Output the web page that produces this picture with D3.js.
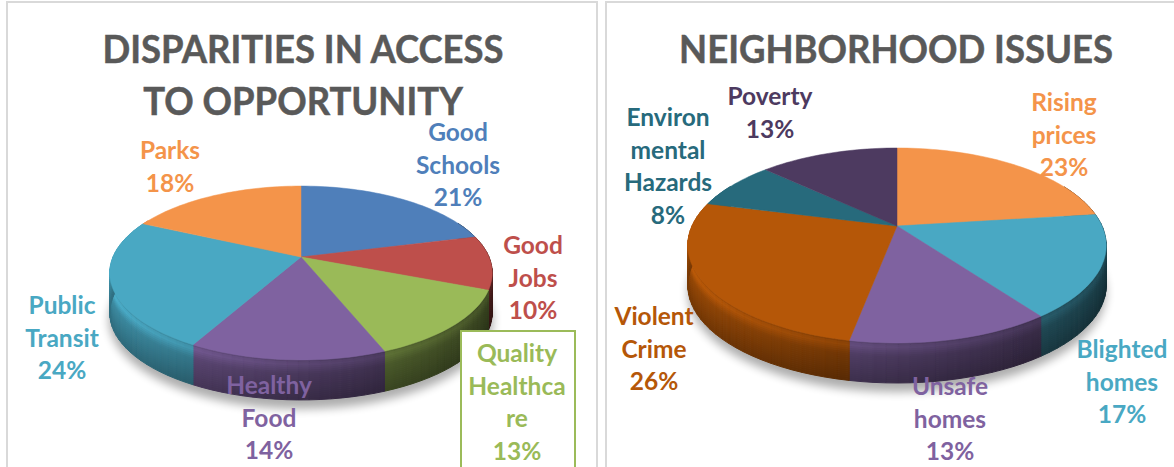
<!DOCTYPE html>
<html>
<head>
<meta charset="utf-8">
<script src="https://cdn.jsdelivr.net/npm/d3@7"></script>
<style>
html,body{margin:0;padding:0;background:#fff;overflow:hidden}
text{font-family:Lato,"Open Sans",sans-serif;font-weight:700}
</style>
</head>
<body>
<script>
var accessNames=[["Good","Schools"],["Good","Jobs"],["Quality","Healthca","re"],["Healthy","Food"],["Public","Transit"],["Parks"]]
var accessValues=[21,10,13,14,24,18]
var accessColors=["#4f7fba","#be4f4b","#9aba58","#7f62a0","#49a8c3","#f4944a"]
var accessLabelX=[458,533,517,269,62,170]
var accessLabelY=[132,245,353,385,305,150]

var issueNames=[["Rising","prices"],["Blighted","homes"],["Unsafe","homes"],["Violent","Crime"],["Environ","mental","Hazards"],["Poverty"]]
var issueValues=[23,17,13,26,8,13]
var issueColors=["#f4944a","#49a8c3","#7f62a0","#b55708","#276a7c","#4d3a60"]
var issueLabelX=[1064,1122,950,654,668,770]
var issueLabelY=[102,349,386,316,117,96]

var width=1174,height=467
var svg=d3.select("body").append("svg").attr("width",width).attr("height",height).style("display","block")
var blur=svg.append("defs").append("filter").attr("id","soft")
    .attr("x","-20%").attr("y","-20%").attr("width","140%").attr("height","140%")
blur.append("feGaussianBlur").attr("stdDeviation",5)

// panel frames, they run off the bottom of the picture
svg.append("rect").attr("x",7).attr("y",2).attr("width",590).attr("height",480)
   .attr("fill","#fff").attr("stroke","#d9d9d9").attr("stroke-width",2)
svg.append("rect").attr("x",606).attr("y",2).attr("width",590).attr("height",480)
   .attr("fill","#fff").attr("stroke","#d9d9d9").attr("stroke-width",2)

var drawTitle=function(lines,cx,ys,size){
  svg.append("g").selectAll("text")
     .data(lines)
     .enter()
     .append("text")
     .attr("transform",function(d,i){return "translate("+cx+","+ys[i]+") scale(0.96,1)"})
     .attr("text-anchor","middle")
     .attr("font-size",size)
     .attr("fill","#595959")
     .attr("stroke","#595959")
     .attr("stroke-width",0.5)
     .text(function(d){return d})
}

// tilted disc: circle under a perspective map, apex sits above the ellipse centre
var drawPie=function(values,colors,p){
  var arcs=d3.pie().sort(null)(values)
  var sx=d3.scaleLinear().domain([-1,1]).range([p.cx-p.sx,p.cx+p.sx])
  var sy=d3.scaleLinear().domain([-1,1]).range([p.cy-p.sy,p.cy+p.sy])
  var rim=function(a,drop){
    var w=1+p.k*Math.cos(a)
    return [sx(Math.sin(a)/w),sy(-Math.cos(a)/w)+(drop||0)]
  }
  var steps=function(d,n){
    var out=[],c=Math.max(2,Math.ceil((d.endAngle-d.startAngle)/n))
    for(var i=0;i<=c;i++){out.push(d.startAngle+(d.endAngle-d.startAngle)*i/c)}
    return out
  }
  var top=rim(0)[1],bottom=rim(Math.PI)[1]
  var ry=(bottom-top)/2
  svg.append("ellipse")
     .attr("cx",p.cx).attr("cy",(top+bottom)/2+p.depth+7)
     .attr("rx",p.sx+4).attr("ry",ry+2)
     .attr("fill","#000").attr("opacity",0.32)
     .attr("filter","url(#soft)")

  // side wall, made of little shaded cells
  var side=svg.append("g")
  var bands=d3.range(0,1.001,0.05)
  var bandLight=d3.scaleLinear().domain([0,0.1,0.35,1]).range([1.0,1.18,0.92,0.72])
  var sideLight=d3.scaleLinear().domain([-1,0,1]).range([0.92,0.62,0.36])
  arcs.forEach(function(d,i){
    var ang=steps(d,0.05)
    for(var j=0;j<ang.length-1;j++){
      var mid=(ang[j]+ang[j+1])/2
      if(Math.cos(mid)>0.45)continue
      bands.slice(0,-1).forEach(function(b,n){
        var t0=b*p.depth,t1=bands[n+1]*p.depth
        var f=sideLight(Math.sin(mid))*bandLight((b+bands[n+1])/2)
        var c=d3.rgb(colors[i])
        var fill=d3.rgb(Math.min(255,c.r*f),Math.min(255,c.g*f),Math.min(255,c.b*f))
        side.append("polygon")
            .attr("points",[rim(ang[j],t0),rim(ang[j+1],t0),rim(ang[j+1],t1),rim(ang[j],t1)].join(" "))
            .attr("fill",fill).attr("stroke",fill).attr("stroke-width",1)
      })
    }
  })

  // top face
  var line=d3.line()
  svg.append("g").selectAll("path")
     .data(arcs)
     .enter()
     .append("path")
     .attr("d",function(d){
       return line([[p.cx,p.cy]].concat(steps(d,0.03).map(function(a){return rim(a)})))+"Z"
     })
     .attr("fill",function(d,i){return colors[i]})
     .attr("stroke",function(d,i){return colors[i]})
     .attr("stroke-width",0.5)
}

var drawLabels=function(names,values,colors,xs,ys,size,step){
  var g=svg.append("g")
  names.forEach(function(name,i){
    var lines=name.concat([values[i]+"%"])
    lines.forEach(function(t,j){
      g.append("text")
       .attr("x",xs[i])
       .attr("y",ys[i]+j*step+9)
       .attr("text-anchor","middle")
       .attr("font-size",size)
       .attr("fill",colors[i])
       .text(t)
    })
  })
}

drawPie(accessValues,accessColors,{cx:301,cy:257,sx:188,sy:84,k:0.184,depth:40})
drawPie(issueValues,issueColors,{cx:897,cy:226,sx:205,sy:93.6,k:0.2,depth:40})

// box around the healthcare label, sits over the pie
svg.append("rect").attr("x",461).attr("y",331).attr("width",114).attr("height",150)
   .attr("fill","#fff").attr("stroke","#9bbb59").attr("stroke-width",2)

drawTitle(["DISPARITIES IN ACCESS","TO OPPORTUNITY"],303,[63,115],38)
drawTitle(["NEIGHBORHOOD ISSUES"],896,[63],38)
drawLabels(accessNames,accessValues,accessColors,accessLabelX,accessLabelY,24.5,32.5)
drawLabels(issueNames,issueValues,issueColors,issueLabelX,issueLabelY,24.5,32.5)
</script>
</body>
</html>
